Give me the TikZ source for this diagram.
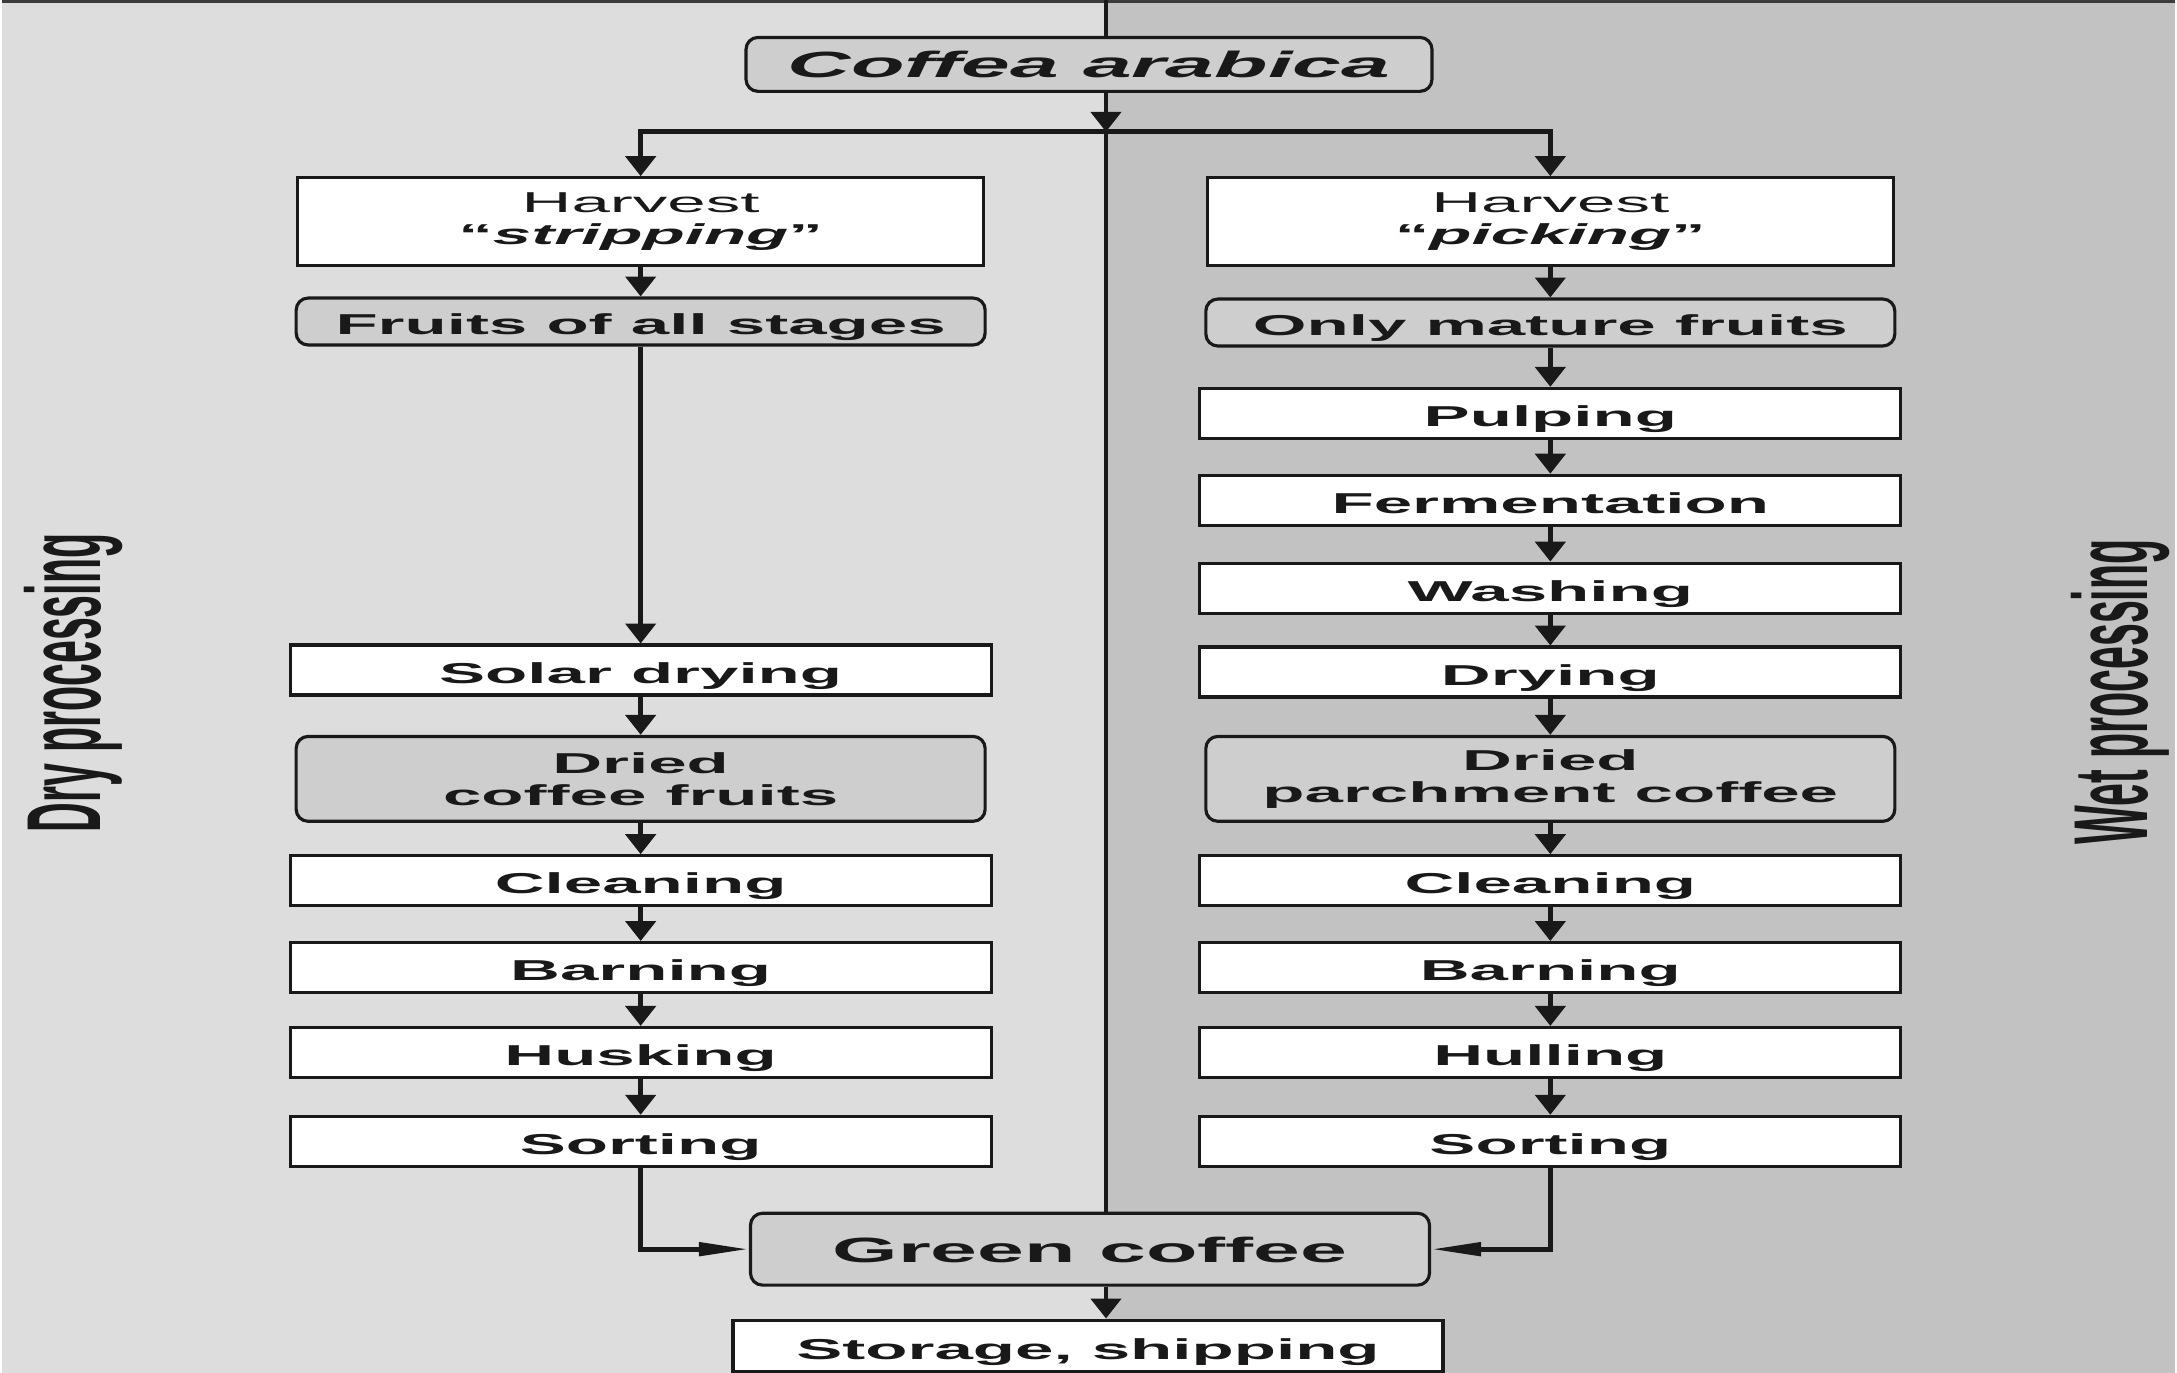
\documentclass[tikz,border=0pt]{standalone}
\usepackage{fontspec}
\usepackage{tikz}
\usetikzlibrary{arrows.meta}
\newfontfamily\boxfont[FakeStretch=2.4]{Liberation Sans}
\newfontfamily\sidefont[FakeStretch=0.39]{Liberation Sans}
\definecolor{leftgray}{RGB}{221, 221, 221}
\definecolor{rightgray}{RGB}{194, 194, 194}
\definecolor{stagegray}{RGB}{206, 206, 206}
\definecolor{inkgray}{RGB}{25, 25, 25}

\begin{document}
\begin{tikzpicture}[
    boxbase/.style={draw=inkgray, fill=white, line width=0.9pt, inner sep=0pt,
      minimum width=7.02cm, minimum height=0.5cm, align=center, text=inkgray,
      font=\boxfont\bfseries\fontsize{8.2}{9.2}\selectfont},
    lineup/.style={text height=9.1pt, text depth=1.7pt},
    procbox/.style={boxbase, lineup},
    stagebox/.style={boxbase, fill=stagegray, rounded corners=1.2mm, minimum width=6.9cm},
    harvbox/.style={boxbase, minimum width=6.87cm, minimum height=0.88cm},
    sidelab/.style={rotate=90, inner sep=0pt, text=inkgray,
      font=\sidefont\bfseries\fontsize{30}{30}\selectfont},
    arr/.style={draw=inkgray, line width=1.4pt, -{Triangle[length=2mm,width=3mm]}},
    sidearr/.style={draw=inkgray, line width=1.4pt, -{Triangle[length=5mm,width=1.3mm]}}
  ]
  % two halves of the panel
  \fill[leftgray] (0,0) rectangle (11.06,-13.75);
  \fill[rightgray] (11.06,0) rectangle (21.77,-13.75);
  \draw[inkgray!85, line width=0.9pt] (0,-0.016) -- (21.77,-0.016);
  \useasboundingbox (0,0) rectangle (21.77,-13.75);
  \coordinate (mid) at (11.06,0);
  \draw[inkgray, line width=1.1pt] (mid) -- (11.06,-12.15);

  \node[sidelab] (dryLab) at (0.72,-6.84) {Dry processing};
  \node[sidelab] (wetLab) at (21.22,-6.93) {Wet processing};

  \node[stagebox, minimum width=6.87cm, minimum height=0.54cm, text height=9.7pt, text depth=2.2pt,
    font=\boxfont\bfseries\fontsize{10.4}{12}\selectfont] (coffea) at (10.89,-0.645) {\textit{Coffea arabica}};
  \coordinate (split) at (11.06,-1.32);

  % dry processing
  \node[harvbox] (harvL) at (6.40,-2.22) {{\mdseries Harvest}\\“\textit{stripping}”};
  \node[stagebox, lineup, minimum height=0.47cm] (fruitsL) at (6.40,-3.22) {Fruits of all stages};
  \node[procbox] (solar) at (6.40,-6.71) {Solar drying};
  \node[stagebox, minimum height=0.85cm] (driedL) at (6.40,-7.80) {Dried\\coffee fruits};
  \node[procbox] (cleanL) at (6.40,-8.82) {Cleaning};
  \node[procbox] (barnL) at (6.40,-9.69) {Barning};
  \node[procbox] (husk) at (6.40,-10.54) {Husking};
  \node[procbox] (sortL) at (6.40,-11.43) {Sorting};

  % wet processing
  \node[harvbox] (harvR) at (15.51,-2.22) {{\mdseries Harvest}\\“\textit{picking}”};
  \node[stagebox, lineup, minimum height=0.47cm] (fruitsR) at (15.51,-3.23) {Only mature fruits};
  \node[procbox] (pulp) at (15.51,-4.14) {Pulping};
  \node[procbox] (ferm) at (15.51,-5.01) {Fermentation};
  \node[procbox] (wash) at (15.51,-5.89) {Washing};
  \node[procbox] (dry) at (15.51,-6.73) {Drying};
  \node[stagebox, minimum height=0.85cm] (driedR) at (15.51,-7.80) {Dried\\parchment coffee};
  \node[procbox] (cleanR) at (15.51,-8.82) {Cleaning};
  \node[procbox] (barnR) at (15.51,-9.69) {Barning};
  \node[procbox] (hull) at (15.51,-10.54) {Hulling};
  \node[procbox] (sortR) at (15.51,-11.43) {Sorting};

  \node[stagebox, minimum width=6.8cm, minimum height=0.72cm, text height=9.6pt, text depth=2pt,
    font=\boxfont\bfseries\fontsize{10}{12}\selectfont] (green) at (10.90,-12.51) {Green coffee};
  \node[procbox, minimum width=7.11cm, minimum height=0.52cm] (store) at (10.88,-13.48) {Storage, shipping};

  \draw[arr] (coffea.south -| mid) -- (split);
  \draw[arr] (split) -| (harvL);
  \draw[arr] (split) -| (harvR);
  \foreach \a/\b in {harvL/fruitsL, fruitsL/solar, solar/driedL, driedL/cleanL, cleanL/barnL,
      barnL/husk, husk/sortL, harvR/fruitsR, fruitsR/pulp, pulp/ferm, ferm/wash, wash/dry,
      dry/driedR, driedR/cleanR, cleanR/barnR, barnR/hull, hull/sortR}
    \draw[arr] (\a) -- (\b);
  \draw[sidearr] (sortL) |- (green);
  \draw[sidearr] (sortR) |- (green);
  \draw[arr] (green.south -| mid) -- (store.north -| mid);
\end{tikzpicture}
\end{document}
